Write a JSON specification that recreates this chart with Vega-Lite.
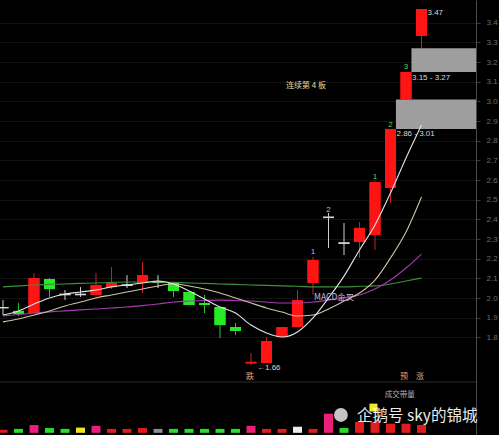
{
  "$schema": "https://vega.github.io/schema/vega-lite/v6.json",
  "width": 476,
  "height": 435,
  "autosize": {"type": "none"},
  "padding": {"left": 0, "top": 0, "right": 23, "bottom": 0},
  "background": "#000000",
  "config": {"view": {"stroke": null}, "font": "Noto Sans CJK SC"},
  "datasets": {
    "candles": [
      {"i": 0, "o": 1.955, "c": 1.948, "h": 1.990, "l": 1.914, "t": "doji"},
      {"i": 1, "o": 1.935, "c": 1.919, "h": 1.975, "l": 1.909, "t": "down"},
      {"i": 2, "o": 1.924, "c": 2.102, "h": 2.128, "l": 1.924, "t": "up"},
      {"i": 3, "o": 2.097, "c": 2.046, "h": 2.102, "l": 2.006, "t": "down"},
      {"i": 4, "o": 2.022, "c": 2.015, "h": 2.041, "l": 1.990, "t": "doji"},
      {"i": 5, "o": 2.022, "c": 2.015, "h": 2.056, "l": 2.006, "t": "doji"},
      {"i": 6, "o": 2.016, "c": 2.067, "h": 2.128, "l": 2.001, "t": "up"},
      {"i": 7, "o": 2.056, "c": 2.077, "h": 2.158, "l": 2.046, "t": "up"},
      {"i": 8, "o": 2.069, "c": 2.062, "h": 2.117, "l": 2.051, "t": "doji"},
      {"i": 9, "o": 2.077, "c": 2.117, "h": 2.184, "l": 2.026, "t": "up"},
      {"i": 10, "o": 2.084, "c": 2.077, "h": 2.117, "l": 2.051, "t": "doji"},
      {"i": 11, "o": 2.077, "c": 2.036, "h": 2.082, "l": 2.006, "t": "down"},
      {"i": 12, "o": 2.031, "c": 1.965, "h": 2.036, "l": 1.965, "t": "down"},
      {"i": 13, "o": 1.975, "c": 1.965, "h": 2.016, "l": 1.924, "t": "down"},
      {"i": 14, "o": 1.955, "c": 1.863, "h": 1.955, "l": 1.797, "t": "down"},
      {"i": 15, "o": 1.853, "c": 1.833, "h": 1.874, "l": 1.813, "t": "down"},
      {"i": 16, "o": 1.668, "c": 1.676, "h": 1.721, "l": 1.660, "t": "up"},
      {"i": 17, "o": 1.670, "c": 1.782, "h": 1.802, "l": 1.670, "t": "up"},
      {"i": 18, "o": 1.802, "c": 1.853, "h": 1.853, "l": 1.802, "t": "up"},
      {"i": 19, "o": 1.853, "c": 1.990, "h": 2.041, "l": 1.853, "t": "up"},
      {"i": 20, "o": 2.077, "c": 2.194, "h": 2.209, "l": 2.016, "t": "up"},
      {"i": 21, "o": 2.414, "c": 2.407, "h": 2.433, "l": 2.255, "t": "doji"},
      {"i": 22, "o": 2.283, "c": 2.276, "h": 2.382, "l": 2.219, "t": "doji"},
      {"i": 23, "o": 2.285, "c": 2.357, "h": 2.387, "l": 2.204, "t": "up"},
      {"i": 24, "o": 2.321, "c": 2.590, "h": 2.595, "l": 2.245, "t": "up"},
      {"i": 25, "o": 2.560, "c": 2.860, "h": 2.860, "l": 2.484, "t": "up"},
      {"i": 26, "o": 3.010, "c": 3.150, "h": 3.150, "l": 3.010, "t": "up"},
      {"i": 27, "o": 3.333, "c": 3.470, "h": 3.470, "l": 3.270, "t": "up"}
    ],
    "ma": [
      {"i": 0, "MA5": 1.914, "MA10": 1.879, "MA30": 1.909, "MA60": 2.057},
      {"i": 1, "MA5": 1.935, "MA10": 1.894, "MA30": 1.917, "MA60": 2.062},
      {"i": 2, "MA5": 1.970, "MA10": 1.914, "MA30": 1.924, "MA60": 2.067},
      {"i": 3, "MA5": 2.001, "MA10": 1.935, "MA30": 1.930, "MA60": 2.070},
      {"i": 4, "MA5": 2.021, "MA10": 1.960, "MA30": 1.935, "MA60": 2.072},
      {"i": 5, "MA5": 2.031, "MA10": 1.980, "MA30": 1.940, "MA60": 2.075},
      {"i": 6, "MA5": 2.041, "MA10": 2.001, "MA30": 1.945, "MA60": 2.077},
      {"i": 7, "MA5": 2.057, "MA10": 2.016, "MA30": 1.950, "MA60": 2.080},
      {"i": 8, "MA5": 2.067, "MA10": 2.031, "MA30": 1.955, "MA60": 2.082},
      {"i": 9, "MA5": 2.077, "MA10": 2.046, "MA30": 1.962, "MA60": 2.082},
      {"i": 10, "MA5": 2.087, "MA10": 2.062, "MA30": 1.970, "MA60": 2.082},
      {"i": 11, "MA5": 2.072, "MA10": 2.072, "MA30": 1.980, "MA60": 2.080},
      {"i": 12, "MA5": 2.036, "MA10": 2.062, "MA30": 1.985, "MA60": 2.077},
      {"i": 13, "MA5": 1.996, "MA10": 2.046, "MA30": 1.988, "MA60": 2.075},
      {"i": 14, "MA5": 1.955, "MA10": 2.026, "MA30": 1.990, "MA60": 2.072},
      {"i": 15, "MA5": 1.924, "MA10": 2.001, "MA30": 1.988, "MA60": 2.070},
      {"i": 16, "MA5": 1.863, "MA10": 1.975, "MA30": 1.985, "MA60": 2.067},
      {"i": 17, "MA5": 1.823, "MA10": 1.950, "MA30": 1.980, "MA60": 2.065},
      {"i": 18, "MA5": 1.802, "MA10": 1.929, "MA30": 1.975, "MA60": 2.062},
      {"i": 19, "MA5": 1.828, "MA10": 1.909, "MA30": 1.975, "MA60": 2.060},
      {"i": 20, "MA5": 1.899, "MA10": 1.914, "MA30": 1.980, "MA60": 2.057},
      {"i": 21, "MA5": 2.001, "MA10": 1.945, "MA30": 1.990, "MA60": 2.057},
      {"i": 22, "MA5": 2.112, "MA10": 1.985, "MA30": 2.001, "MA60": 2.057},
      {"i": 23, "MA5": 2.245, "MA10": 2.026, "MA30": 2.016, "MA60": 2.060},
      {"i": 24, "MA5": 2.372, "MA10": 2.092, "MA30": 2.046, "MA60": 2.062},
      {"i": 25, "MA5": 2.534, "MA10": 2.204, "MA30": 2.092, "MA60": 2.072},
      {"i": 26, "MA5": 2.712, "MA10": 2.336, "MA30": 2.153, "MA60": 2.087},
      {"i": 27, "MA5": 2.880, "MA10": 2.514, "MA30": 2.224, "MA60": 2.102}
    ],
    "gaps": [
      {"x1": 25.35, "x2": 30.6, "lo": 2.86, "hi": 3.01},
      {"x1": 26.35, "x2": 30.6, "lo": 3.15, "hi": 3.27}
    ],
    "sep": [{"p": 1.5736}],
    "rangeLabels": [
      {"i": 27, "p": 3.452, "text": "3.47"},
      {"i": 26, "p": 3.119, "text": "3.15 - 3.27"},
      {"i": 25, "p": 2.834, "text": "2.86 - 3.01"},
      {"i": 16, "p": 1.645, "text": "←1.66"}
    ],
    "counts": [
      {"i": 24, "p": 2.616, "text": "1"},
      {"i": 25, "p": 2.880, "text": "2"},
      {"i": 26, "p": 3.175, "text": "3"}
    ],
    "grayCounts": [
      {"i": 20, "p": 2.235, "text": "1"},
      {"i": 21, "p": 2.450, "text": "2"}
    ],
    "streak": [{"i": 19.55, "p": 3.078, "text": "连续第 4 板"}],
    "macd": [{"i": 20, "p": 2.006, "text": "MACD金叉"}],
    "signals": [
      {"i": 15.94, "p": 1.599, "text": "跌"},
      {"i": 25.87, "p": 1.599, "text": "预"},
      {"i": 26.9, "p": 1.599, "text": "涨"}
    ],
    "volume": [
      {"i": 0, "v": 0.7, "t": "red"},
      {"i": 1, "v": 0.9, "t": "green"},
      {"i": 2, "v": 1.8, "t": "pink"},
      {"i": 3, "v": 1.1, "t": "green"},
      {"i": 4, "v": 0.9, "t": "green"},
      {"i": 5, "v": 1.2, "t": "yellow"},
      {"i": 6, "v": 1.6, "t": "pink"},
      {"i": 7, "v": 0.9, "t": "red"},
      {"i": 8, "v": 0.9, "t": "red"},
      {"i": 9, "v": 1.1, "t": "red"},
      {"i": 10, "v": 0.9, "t": "gray"},
      {"i": 11, "v": 0.9, "t": "green"},
      {"i": 12, "v": 0.9, "t": "green"},
      {"i": 13, "v": 0.9, "t": "green"},
      {"i": 14, "v": 0.9, "t": "green"},
      {"i": 15, "v": 0.9, "t": "green"},
      {"i": 16, "v": 1.6, "t": "pink"},
      {"i": 17, "v": 0.9, "t": "red"},
      {"i": 18, "v": 0.9, "t": "red"},
      {"i": 19, "v": 1.4, "t": "white"},
      {"i": 20, "v": 0.9, "t": "red"},
      {"i": 21, "v": 4.4, "t": "pink"},
      {"i": 22, "v": 1.1, "t": "green"},
      {"i": 23, "v": 2.5, "t": "red"},
      {"i": 24, "v": 2.5, "t": "red"},
      {"i": 25, "v": 2.1, "t": "red"},
      {"i": 26, "v": 2.1, "t": "red"},
      {"i": 27, "v": 1.8, "t": "red"}
    ],
    "volLabel": [{"i": 25.6, "v": 8.6, "text": "成交带量"}],
    "volMark": [{"i": 23.9, "v": 5.8}],
    "icon": [{"i": 21.8, "v": 4.1}],
    "watermark": [{"i": 22.84, "v": 3.9, "text": "企鹅号 sky的锦城"}]
  },
  "resolve": {"scale": {"y": "independent", "color": "independent"}, "axis": {"y": "independent"}},
  "layer": [
    {
      "data": {"name": "candles"},
      "mark": {"type": "bar", "size": 11},
      "encoding": {
        "x": {"field": "i", "type": "quantitative", "scale": {"domain": [-0.1935, 30.516], "nice": false, "zero": false, "padding": 0}, "axis": null},
        "y": {
          "field": "o", "type": "quantitative",
          "scale": {"domain": [1.3041, 3.5156], "nice": false, "zero": false, "padding": 0},
          "axis": {
            "orient": "right", "title": null,
            "values": [1.8, 1.9, 2.0, 2.1, 2.2, 2.3, 2.4, 2.5, 2.6, 2.7, 2.8, 2.9, 3.0, 3.1, 3.2, 3.3, 3.4],
            "format": ".1f", "labelFont": "Liberation Sans", "labelFontSize": 8,
            "labelColor": "#6e6e6e", "labelPadding": 6,
            "domainColor": "#4a4a4a", "tickColor": "#3a3a3a", "tickSize": 4,
            "grid": true, "gridColor": "#131313", "gridWidth": 1, "zindex": 0
          }
        },
        "y2": {"field": "c"},
        "color": {"field": "t", "type": "nominal", "scale": {"domain": ["up", "down", "doji"], "range": ["#ff1414", "#26ec26", "#d6d6d6"]}, "legend": null}
      }
    },
    {
      "data": {"name": "sep"},
      "mark": {"type": "rule", "color": "#2e2e2e", "strokeWidth": 1},
      "encoding": {
        "y": {"field": "p", "type": "quantitative", "scale": {"domain": [1.3041, 3.5156], "nice": false, "zero": false, "padding": 0}, "axis": null}
      }
    },
    {
      "data": {"name": "gaps"},
      "mark": {"type": "rect", "color": "#9e9e9e", "clip": true},
      "encoding": {
        "x": {"field": "x1", "type": "quantitative", "scale": {"domain": [-0.1935, 30.516], "nice": false, "zero": false, "padding": 0}, "axis": null},
        "x2": {"field": "x2"},
        "y": {"field": "lo", "type": "quantitative", "scale": {"domain": [1.3041, 3.5156], "nice": false, "zero": false, "padding": 0}, "axis": null},
        "y2": {"field": "hi"}
      }
    },
    {
      "data": {"name": "candles"},
      "mark": {"type": "rule", "strokeWidth": 1},
      "encoding": {
        "x": {"field": "i", "type": "quantitative", "scale": {"domain": [-0.1935, 30.516], "nice": false, "zero": false, "padding": 0}, "axis": null},
        "y": {"field": "l", "type": "quantitative", "scale": {"domain": [1.3041, 3.5156], "nice": false, "zero": false, "padding": 0}, "axis": null},
        "y2": {"field": "h"},
        "color": {"field": "t", "type": "nominal", "scale": {"domain": ["up", "down", "doji"], "range": ["#c82020", "#22c822", "#cfcfcf"]}, "legend": null}
      }
    },
    {
      "data": {"name": "candles"},
      "mark": {"type": "bar", "size": 11},
      "encoding": {
        "x": {"field": "i", "type": "quantitative", "scale": {"domain": [-0.1935, 30.516], "nice": false, "zero": false, "padding": 0}, "axis": null},
        "y": {"field": "o", "type": "quantitative", "scale": {"domain": [1.3041, 3.5156], "nice": false, "zero": false, "padding": 0}, "axis": null},
        "y2": {"field": "c"},
        "color": {"field": "t", "type": "nominal", "scale": {"domain": ["up", "down", "doji"], "range": ["#ff1414", "#26ec26", "#d6d6d6"]}, "legend": null}
      }
    },
    {
      "data": {"name": "ma"},
      "transform": [{"fold": ["MA60", "MA30", "MA10", "MA5"], "as": ["s", "val"]}],
      "mark": {"type": "line", "strokeWidth": 1.1, "interpolate": "monotone"},
      "encoding": {
        "x": {"field": "i", "type": "quantitative", "scale": {"domain": [-0.1935, 30.516], "nice": false, "zero": false, "padding": 0}, "axis": null},
        "y": {"field": "val", "type": "quantitative", "scale": {"domain": [1.3041, 3.5156], "nice": false, "zero": false, "padding": 0}, "axis": null},
        "color": {"field": "s", "type": "nominal", "scale": {"domain": ["MA5", "MA10", "MA30", "MA60"], "range": ["#e4e4e4", "#cfc4a2", "#a43cb0", "#3f8f3f"]}, "legend": null},
        "detail": {"field": "s"}
      }
    },
    {
      "data": {"name": "rangeLabels"},
      "mark": {"type": "text", "align": "left", "baseline": "middle", "dx": 6, "font": "Liberation Sans", "fontSize": 8, "color": "#d8d8d8"},
      "encoding": {
        "x": {"field": "i", "type": "quantitative", "scale": {"domain": [-0.1935, 30.516], "nice": false, "zero": false, "padding": 0}, "axis": null},
        "y": {"field": "p", "type": "quantitative", "scale": {"domain": [1.3041, 3.5156], "nice": false, "zero": false, "padding": 0}, "axis": null},
        "text": {"field": "text"}
      }
    },
    {
      "data": {"name": "counts"},
      "mark": {"type": "text", "align": "center", "baseline": "middle", "font": "Liberation Sans", "fontSize": 8, "color": "#5ad05a"},
      "encoding": {
        "x": {"field": "i", "type": "quantitative", "scale": {"domain": [-0.1935, 30.516], "nice": false, "zero": false, "padding": 0}, "axis": null},
        "y": {"field": "p", "type": "quantitative", "scale": {"domain": [1.3041, 3.5156], "nice": false, "zero": false, "padding": 0}, "axis": null},
        "text": {"field": "text"}
      }
    },
    {
      "data": {"name": "grayCounts"},
      "mark": {"type": "text", "align": "center", "baseline": "middle", "font": "Liberation Sans", "fontSize": 8, "color": "#bdbdbd"},
      "encoding": {
        "x": {"field": "i", "type": "quantitative", "scale": {"domain": [-0.1935, 30.516], "nice": false, "zero": false, "padding": 0}, "axis": null},
        "y": {"field": "p", "type": "quantitative", "scale": {"domain": [1.3041, 3.5156], "nice": false, "zero": false, "padding": 0}, "axis": null},
        "text": {"field": "text"}
      }
    },
    {
      "data": {"name": "streak"},
      "mark": {"type": "text", "align": "center", "baseline": "middle", "fontSize": 8, "color": "#e4dc9c"},
      "encoding": {
        "x": {"field": "i", "type": "quantitative", "scale": {"domain": [-0.1935, 30.516], "nice": false, "zero": false, "padding": 0}, "axis": null},
        "y": {"field": "p", "type": "quantitative", "scale": {"domain": [1.3041, 3.5156], "nice": false, "zero": false, "padding": 0}, "axis": null},
        "text": {"field": "text"}
      }
    },
    {
      "data": {"name": "macd"},
      "mark": {"type": "text", "align": "left", "baseline": "middle", "dx": 1, "fontSize": 8.5, "color": "#c4b6d6"},
      "encoding": {
        "x": {"field": "i", "type": "quantitative", "scale": {"domain": [-0.1935, 30.516], "nice": false, "zero": false, "padding": 0}, "axis": null},
        "y": {"field": "p", "type": "quantitative", "scale": {"domain": [1.3041, 3.5156], "nice": false, "zero": false, "padding": 0}, "axis": null},
        "text": {"field": "text"}
      }
    },
    {
      "data": {"name": "signals"},
      "mark": {"type": "text", "align": "center", "baseline": "middle", "fontSize": 8, "color": "#e0a07a"},
      "encoding": {
        "x": {"field": "i", "type": "quantitative", "scale": {"domain": [-0.1935, 30.516], "nice": false, "zero": false, "padding": 0}, "axis": null},
        "y": {"field": "p", "type": "quantitative", "scale": {"domain": [1.3041, 3.5156], "nice": false, "zero": false, "padding": 0}, "axis": null},
        "text": {"field": "text"}
      }
    },
    {
      "data": {"name": "volume"},
      "mark": {"type": "bar", "size": 9},
      "encoding": {
        "x": {"field": "i", "type": "quantitative", "scale": {"domain": [-0.1935, 30.516], "nice": false, "zero": false, "padding": 0}, "axis": null},
        "y": {"field": "v", "type": "quantitative", "scale": {"domain": [-0.5, 99.5], "nice": false, "zero": false, "padding": 0}, "axis": null},
        "y2": {"datum": 0},
        "color": {"field": "t", "type": "nominal", "scale": {"domain": ["red", "green", "pink", "yellow", "gray", "white"], "range": ["#e01c1c", "#26e026", "#e8207a", "#ece81e", "#8e8e8e", "#ececec"]}, "legend": null}
      }
    },
    {
      "data": {"name": "volLabel"},
      "mark": {"type": "text", "align": "center", "baseline": "middle", "fontSize": 7.5, "color": "#b0b0b0"},
      "encoding": {
        "x": {"field": "i", "type": "quantitative", "scale": {"domain": [-0.1935, 30.516], "nice": false, "zero": false, "padding": 0}, "axis": null},
        "y": {"field": "v", "type": "quantitative", "scale": {"domain": [-0.5, 99.5], "nice": false, "zero": false, "padding": 0}, "axis": null},
        "text": {"field": "text"}
      }
    },
    {
      "data": {"name": "volMark"},
      "mark": {"type": "point", "shape": "square", "filled": true, "size": 64, "color": "#f0ec20", "opacity": 1},
      "encoding": {
        "x": {"field": "i", "type": "quantitative", "scale": {"domain": [-0.1935, 30.516], "nice": false, "zero": false, "padding": 0}, "axis": null},
        "y": {"field": "v", "type": "quantitative", "scale": {"domain": [-0.5, 99.5], "nice": false, "zero": false, "padding": 0}, "axis": null}
      }
    },
    {
      "data": {"name": "icon"},
      "mark": {"type": "point", "shape": "circle", "filled": true, "size": 190, "color": "#d0d0d0", "opacity": 0.95},
      "encoding": {
        "x": {"field": "i", "type": "quantitative", "scale": {"domain": [-0.1935, 30.516], "nice": false, "zero": false, "padding": 0}, "axis": null},
        "y": {"field": "v", "type": "quantitative", "scale": {"domain": [-0.5, 99.5], "nice": false, "zero": false, "padding": 0}, "axis": null}
      }
    },
    {
      "data": {"name": "watermark"},
      "mark": {"type": "text", "align": "left", "baseline": "middle", "fontSize": 15.5, "color": "#ffffff", "opacity": 0.92},
      "encoding": {
        "x": {"field": "i", "type": "quantitative", "scale": {"domain": [-0.1935, 30.516], "nice": false, "zero": false, "padding": 0}, "axis": null},
        "y": {"field": "v", "type": "quantitative", "scale": {"domain": [-0.5, 99.5], "nice": false, "zero": false, "padding": 0}, "axis": null},
        "text": {"field": "text"}
      }
    }
  ]
}
